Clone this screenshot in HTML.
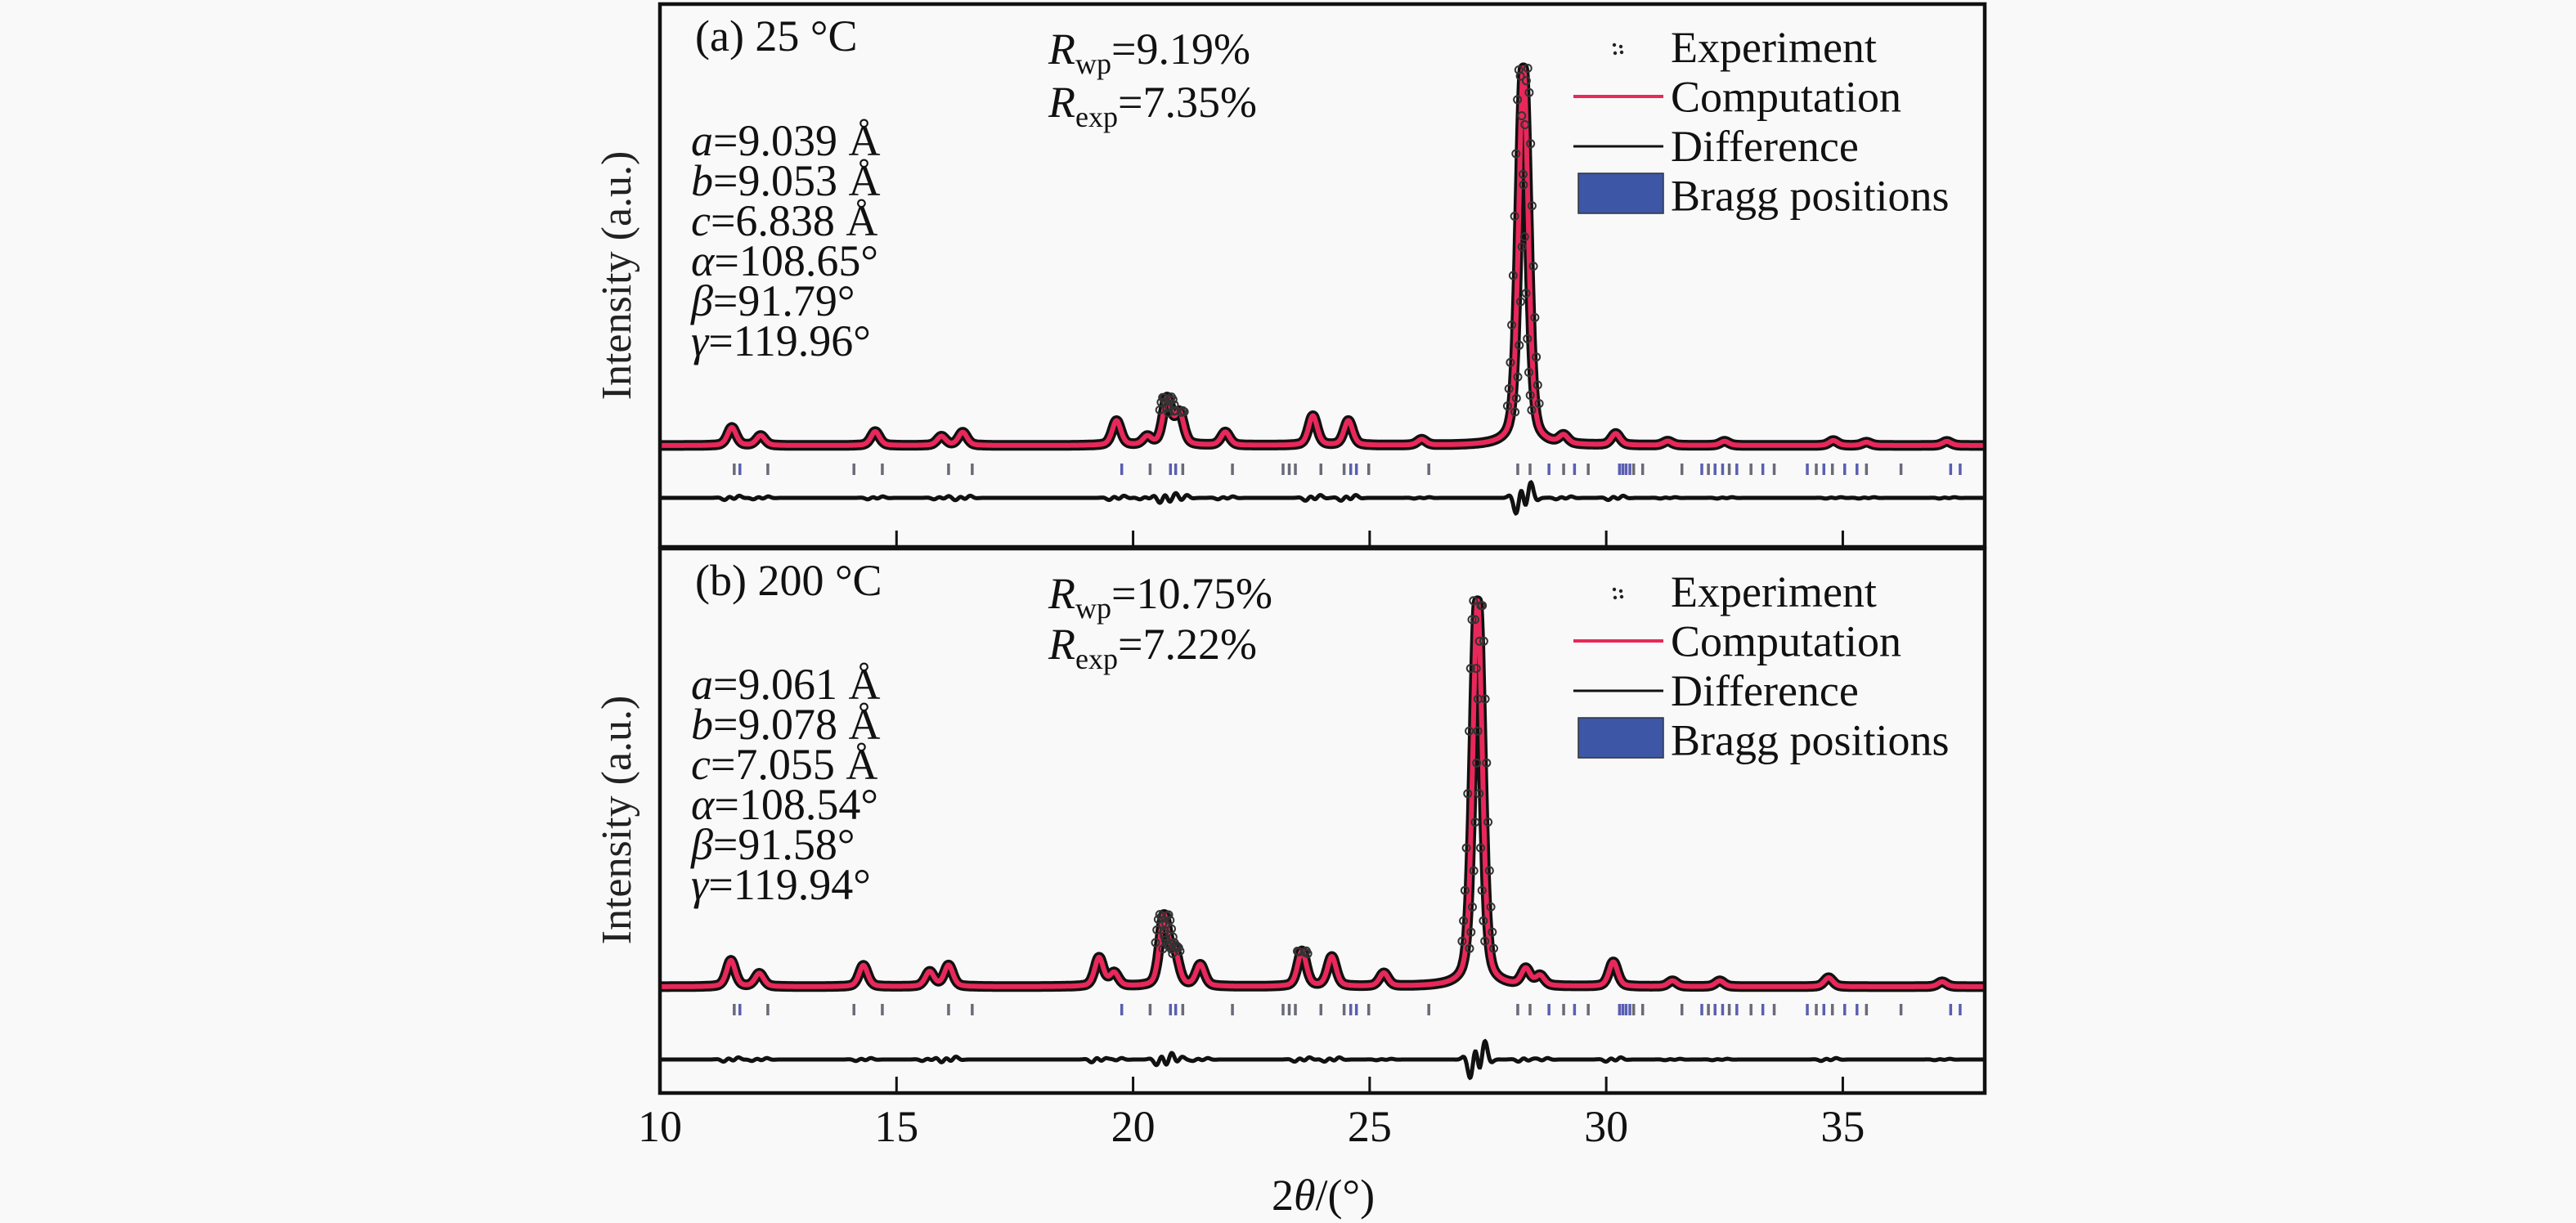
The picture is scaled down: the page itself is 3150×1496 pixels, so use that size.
<!DOCTYPE html>
<html><head><meta charset="utf-8"><title>XRD Rietveld refinement</title>
<style>
html,body{margin:0;padding:0;background:#f9f9f9;}
svg{display:block;}
svg text{font-family:"Liberation Serif","DejaVu Serif",serif;}
</style></head>
<body>
<svg id="chart" width="3150" height="1496" viewBox="0 0 3150 1496" xmlns="http://www.w3.org/2000/svg" font-family="Liberation Serif, DejaVu Serif, serif">
<rect x="0" y="0" width="3150" height="1496" fill="#f9f9f9"/>
<g id="plots"></g>

<g font-size="54" fill="#111" font-family="Liberation Serif, serif">
  <text x="850" y="62">(a) 25 °C</text>
  <text x="1282" y="78"><tspan font-style="italic">R</tspan><tspan font-size="36" dy="12">wp</tspan><tspan dy="-12">=9.19%</tspan></text>
  <text x="1282" y="143"><tspan font-style="italic">R</tspan><tspan font-size="36" dy="12">exp</tspan><tspan dy="-12">=7.35%</tspan></text>
  <text x="845" y="190"><tspan font-style="italic">a</tspan>=9.039 Å</text>
  <text x="845" y="239"><tspan font-style="italic">b</tspan>=9.053 Å</text>
  <text x="845" y="288"><tspan font-style="italic">c</tspan>=6.838 Å</text>
  <text x="845" y="337"><tspan font-style="italic">α</tspan>=108.65°</text>
  <text x="845" y="386"><tspan font-style="italic">β</tspan>=91.79°</text>
  <text x="845" y="435"><tspan font-style="italic">γ</tspan>=119.96°</text>
</g>
<g font-size="54" fill="#111" font-family="Liberation Serif, serif">
  <text x="850" y="728">(b) 200 °C</text>
  <text x="1282" y="744"><tspan font-style="italic">R</tspan><tspan font-size="36" dy="12">wp</tspan><tspan dy="-12">=10.75%</tspan></text>
  <text x="1282" y="806"><tspan font-style="italic">R</tspan><tspan font-size="36" dy="12">exp</tspan><tspan dy="-12">=7.22%</tspan></text>
  <text x="845" y="855"><tspan font-style="italic">a</tspan>=9.061 Å</text>
  <text x="845" y="904"><tspan font-style="italic">b</tspan>=9.078 Å</text>
  <text x="845" y="953"><tspan font-style="italic">c</tspan>=7.055 Å</text>
  <text x="845" y="1002"><tspan font-style="italic">α</tspan>=108.54°</text>
  <text x="845" y="1051"><tspan font-style="italic">β</tspan>=91.58°</text>
  <text x="845" y="1100"><tspan font-style="italic">γ</tspan>=119.94°</text>
</g>

<text font-family="Liberation Serif, serif" font-size="52" fill="#222" text-anchor="middle" transform="translate(771,337) rotate(-90)">Intensity (a.u.)</text>
<text font-family="Liberation Serif, serif" font-size="52" fill="#222" text-anchor="middle" transform="translate(771,1003) rotate(-90)">Intensity (a.u.)</text>

<text font-family="Liberation Serif, serif" font-size="54" fill="#111" text-anchor="middle" x="1618" y="1480">2<tspan font-style="italic">θ</tspan>/(°)</text>

<g id="legends" font-size="54" fill="#111" font-family="Liberation Serif, serif"></g>
<g id="ticklabels" font-size="54" fill="#111" text-anchor="middle" font-family="Liberation Serif, serif"></g>
</svg>
<script>
// ---- data ----
const xTicks = [10, 15, 20, 25, 30, 35];
const peakCentersA = [11.52,12.13,14.55,15.95,16.4,19.65,20.3,20.72,20.98,21.95,23.8,24.55,26.1,28.25,29.1,30.2,31.3,32.5,34.8,35.5,37.2];
const peakHeightsA = [22,12,17,11,16,30,10,56,38,16,36,30,7,462,10,14,5,5,6,4,5];
const diffAmpA     = [3,2,2,2,3,3,2,7,4,2,4,4,1,22,2,3,1,1,1,1,1];
const peakCentersB = [11.5,12.1,14.3,15.7,16.1,19.28,19.6,20.65,20.88,21.42,23.57,24.2,25.3,27.28,28.3,28.6,30.15,31.4,32.4,34.7,37.1];
const peakHeightsB = [32,16,26,18,26,35,16,84,38,26,43,36,16,472,20,12,30,7,7,11,6];
const diffAmpB     = [3,2,2,2,4,4,2,8,4,2,3,3,1,26,3,2,3,1,1,2,1];
const braggPositions = [11.57,11.69,12.28,14.1,14.7,16.1,16.6,19.76,20.36,20.79,20.9,21.05,22.1,23.17,23.3,23.43,23.97,24.46,24.6,24.72,24.98,26.25,28.13,28.39,28.79,29.1,29.33,29.62,30.28,30.35,30.42,30.5,30.58,30.77,31.6,32.02,32.16,32.3,32.46,32.6,32.76,33.06,33.31,33.55,34.25,34.44,34.6,34.78,35.04,35.3,35.5,36.23,37.28,37.48];
const braggBlue = [0,1,0,0,0,0,0,1,0,1,1,0,0,0,0,0,0,0,1,1,0,0,0,0,1,0,1,0,1,1,1,1,0,0,0,1,0,1,1,0,1,0,1,0,1,0,1,0,1,1,0,0,1,1];

// ---- geometry ----
const X0 = 807, X1 = 2427, xMin = 10, xMax = 38;
function xs(v){ return X0 + (v - xMin) * (X1 - X0) / (xMax - xMin); }
const panels = [
  {id:'a', top:5, bottom:669, base:545, braggTop:567, braggBot:581, diffY:609, centers:peakCentersA, heights:peakHeightsA, diff:diffAmpA},
  {id:'b', top:671, bottom:1337, base:1207, braggTop:1228, braggBot:1242, diffY:1296, centers:peakCentersB, heights:peakHeightsB, diff:diffAmpB}
];
const NS = 'http://www.w3.org/2000/svg';
function mk(tag, attrs, parent){ const e = document.createElementNS(NS, tag); for (const k in attrs) e.setAttribute(k, attrs[k]); parent.appendChild(e); return e; }

function profile(d, w){
  const g = Math.exp(-4*Math.LN2*d*d/(w*w));
  const l = 1/(1 + 4*d*d/(w*w));
  return 0.6*g + 0.4*l;
}
function calc(p, x){
  let s = 0;
  for (let i=0;i<p.centers.length;i++){
    const w = p.heights[i] > 200 ? 0.24 : 0.22;
    s += p.heights[i] * profile(x - p.centers[i], w);
  }
  return s;
}
function diffv(p, x){
  let s = 0;
  for (let i=0;i<p.centers.length;i++){
    const w = 0.12, d = (x - p.centers[i]) / w;
    s += p.diff[i] * (-d) * Math.exp(-d*d/2) * 1.6 * Math.cos(d*2.2);
  }
  return s;
}

const plots = document.getElementById('plots');
panels.forEach(p => {
  const g = mk('g', {}, plots);
  
  
  const ys = v => p.base - v;
  let pts = [];
  for (let x = xMin; x <= xMax + 1e-9; x += 0.01) pts.push(xs(x).toFixed(1) + ',' + ys(calc(p, x)).toFixed(1));
  const d = 'M' + pts.join(' L');
  const expLine = mk('path', {d:d, fill:'none', stroke:'#111', 'stroke-width':13, 'stroke-linejoin':'round'}, g);
  
  
  const calcLine = mk('path', {d:d, fill:'none', stroke:'#e8285a', 'stroke-width':6, 'stroke-linejoin':'round'}, g);
  
  
  const circ = mk('g', {fill:'none', stroke:'#333', 'stroke-width':2}, g);
  
  
  for (let x = xMin; x <= xMax; x += 0.015){
    const v = calc(p, x);
    if (v > 40){
      const c = mk('circle', {cx:(xs(x) + (Math.round(x*200)%2 ? 5 : -5)).toFixed(1), cy:ys(v).toFixed(1), r:4.5}, circ);
      
      
    }
  }
  const bg = mk('g', {}, g);
  
  
  braggPositions.forEach((b, i) => {
    const t = mk('line', {x1:xs(b), x2:xs(b), y1:p.braggTop, y2:p.braggBot, stroke: braggBlue[i] ? '#5a5fb0' : '#6a6a78', 'stroke-width':3.5}, bg);
    
    
  });
  let dp = [];
  for (let x = xMin; x <= xMax + 1e-9; x += 0.01) dp.push(xs(x).toFixed(1) + ',' + (p.diffY - diffv(p, x)).toFixed(1));
  const dl = mk('path', {d:'M' + dp.join(' L'), fill:'none', stroke:'#111', 'stroke-width':5}, g);
  
  
  xTicks.forEach(t => {
    if (t === xMin) return;
    const tk = mk('line', {x1:xs(t), x2:xs(t), y1:p.bottom - 20, y2:p.bottom, stroke:'#111', 'stroke-width':3}, g);
    
    
  });
  const fr = mk('rect', {x:X0, y:p.top, width:X1 - X0, height:p.bottom - p.top, fill:'none', stroke:'#111', 'stroke-width':4.5}, g);
  
  
});

const tl = document.getElementById('ticklabels');
xTicks.forEach(t => {
  const e = mk('text', {x:xs(t), y:1396}, tl);
  e.textContent = String(t);
  
  
});

const lg = document.getElementById('legends');
[[0, 'a'], [666, 'b']].forEach(([off, id]) => {
  const g = mk('g', {}, lg);
  
  
  const e1 = mk('g', {fill:'#222'}, g);
  
  
  [[-4,-5],[4,-3],[-3,5],[5,4]].forEach(([dx,dy]) => mk('circle', {cx:1978+dx, cy:60+off+dy, r:2.2}, e1));
  mk('line', {x1:1924, x2:2034, y1:118+off, y2:118+off, stroke:'#e8285a', 'stroke-width':4}, g);
  mk('line', {x1:1924, x2:2034, y1:179+off, y2:179+off, stroke:'#111', 'stroke-width':3}, g);
  mk('rect', {x:1930, y:212+off, width:104, height:49, fill:'#3d56a6', stroke:'#333', 'stroke-width':1.5}, g);
  const labels = ['Experiment', 'Computation', 'Difference', 'Bragg positions'];
  labels.forEach((s, i) => {
    const t = mk('text', {x:2043, y:76 + off + i*60.5}, g);
    t.textContent = s;
    
    
  });
});
</script>
</body></html>
